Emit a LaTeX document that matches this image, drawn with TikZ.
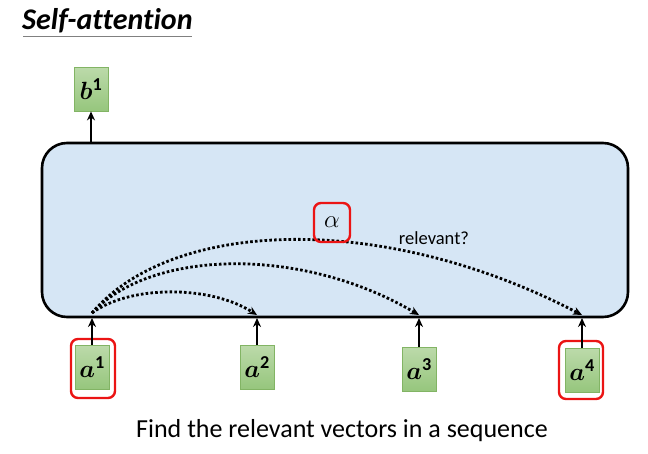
\documentclass[tikz,border=0pt]{standalone}
\usepackage{fontspec}
\setmainfont[Ligatures=NoCommon]{Carlito}
\usepackage{amsmath,bm}
\usetikzlibrary{arrows.meta,shapes.geometric}
\definecolor{panelblue}{RGB}{214,230,245}
\definecolor{boxtop}{RGB}{188,218,170}
\definecolor{boxbot}{RGB}{150,198,125}
\definecolor{boxedge}{RGB}{130,180,100}
\definecolor{hlred}{RGB}{235,20,20}
\tikzset{
  vecbox/.style={draw=boxedge, line width=0.8pt, top color=boxtop, bottom color=boxbot,
    minimum width=34pt, minimum height=44pt, inner sep=0pt, font=\fontsize{26}{30}\selectfont},
  hlbox/.style={draw=hlred, line width=2.4pt, rounded corners=7pt, fill=none},
  uparrow/.style={line width=2.6pt, -{Stealth[length=9pt,width=8pt]}},
  attn/.style={line width=2.8pt, dash pattern=on 2.6pt off 2.2pt, -{Stealth[length=9pt,width=8pt]}},
}
\begin{document}
\begin{tikzpicture}[x=1pt,y=-1pt]
\useasboundingbox (0,0) rectangle (648,453);
% title
\node[anchor=base west, inner sep=0pt, font=\fontsize{30}{34}\selectfont\bfseries\itshape] (title) at (22,29) {Self-attention};
\draw[line width=1pt, gray] (23,36) -- (192,36);
% panel
\node[draw=black, line width=2.6pt, fill=panelblue, rounded corners=25pt, minimum width=586pt, minimum height=174pt, inner sep=0pt] (panel) at (335,230) {};
% output
\node[vecbox] (b1) at (91,89) {$\bm{b}^{\mathbf{1}}$};
\coordinate (b1src) at (91,142);
\draw[uparrow] (b1src) -- (b1.south);
% inputs
\node[vecbox] (a1) at (92,367) {$\bm{a}^{\mathbf{1}}$};
\node[vecbox] (a2) at (257,367) {$\bm{a}^{\mathbf{2}}$};
\node[vecbox] (a3) at (419,369) {$\bm{a}^{\mathbf{3}}$};
\node[vecbox] (a4) at (582,370) {$\bm{a}^{\mathbf{4}}$};
\node[hlbox, minimum width=44pt, minimum height=59pt] (r1) at (93,368.5) {};
\node[hlbox, minimum width=44pt, minimum height=58pt] (r4) at (581,370) {};
\coordinate (e1) at (92,318);
\coordinate (e2) at (257,318);
\coordinate (e3) at (419,318);
\coordinate (e4) at (582,318);
\draw[uparrow] (a1.north) -- (e1);
\draw[uparrow] (a2.north) -- (e2);
\draw[uparrow] (a3.north) -- (e3);
\draw[uparrow] (a4.north) -- (e4);
% attention arcs
\coordinate (s) at (92,313);
\coordinate (t2) at (257,315);
\coordinate (t3) at (419,315);
\coordinate (t4) at (582,315);
\draw[attn] (s) .. controls (130,285) and (210,285) .. (t2);
\draw[attn] (s) .. controls (150,250) and (300,245) .. (t3);
\draw[attn] (s) .. controls (170,220) and (380,210) .. (t4);
% alpha
\node[hlbox, minimum width=36pt, minimum height=39pt] (alpha) at (332,222.5) {};
\node[font=\fontsize{24}{28}\selectfont] (alphalbl) at (332,222) {$\alpha$};
\node[font=\fontsize{18.5}{22}\selectfont, inner sep=0pt] (rel) at (434,238) {relevant?};
% caption
\node[font=\fontsize{26}{30}\selectfont, inner sep=0pt] (cap) at (342,431) {Find the relevant vectors in a sequence};
\end{tikzpicture}
\end{document}
